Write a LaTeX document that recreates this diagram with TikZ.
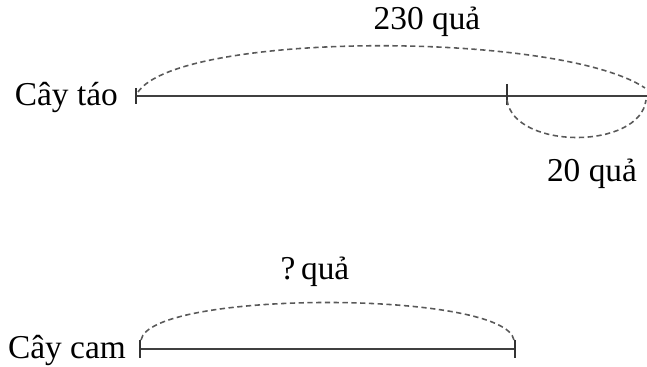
\documentclass[tikz,border=0pt]{standalone}
\usepackage{fontspec}
\setmainfont{Liberation Serif}
\usetikzlibrary{calc}

\begin{document}
\begin{tikzpicture}[x=0.02cm,y=-0.02cm,font=\fontsize{19}{22}\selectfont,
 seg/.style={line width=1pt,black!75},
 tickmark/.style={line width=.6pt,black!80},
 arc/.style={line width=.9pt,black!65,dash pattern=on 3pt off 2pt}]
\useasboundingbox (0,0) rectangle (647,367);
% apple tree
\node[anchor=east] (tao) at (124,97) {Cây táo};
\coordinate (a0) at (136,96);
\coordinate (a1) at (507,96);
\coordinate (a2) at (647,96);
\draw[seg] (a0)--(a2);
\draw[tickmark] ($(a0)+(0,-8)$)--($(a0)+(0,8)$);
\draw[tickmark] ($(a1)+(0,-12)$)--($(a1)+(0,9)$);
\draw[arc] ($(a0)+(2,-4)$) .. controls (180,31) and (560,31) .. ($(a2)+(-2,-8)$);
\draw[arc] ($(a1)+(0,4)$) .. controls (514,150) and (640,150) .. ($(a2)+(-1,4)$);
\node (tong) at (427,22) {230 quả};
\node (hon) at (592,174) {20 quả};
% orange tree
\node[anchor=east] (cam) at (132,350) {Cây cam};
\coordinate (b0) at (140,349);
\coordinate (b1) at (515,349);
\draw[seg] (b0)--(b1);
\draw[tickmark] ($(b0)+(0,-9)$)--($(b0)+(0,9)$);
\draw[tickmark] ($(b1)+(0,-9)$)--($(b1)+(0,9)$);
\draw[arc] ($(b0)+(1,-9)$) .. controls (150,290) and (505,290) .. ($(b1)+(-1,-9)$);
\node (hoi) at (315,272) {?\,quả};
\end{tikzpicture}
\end{document}
